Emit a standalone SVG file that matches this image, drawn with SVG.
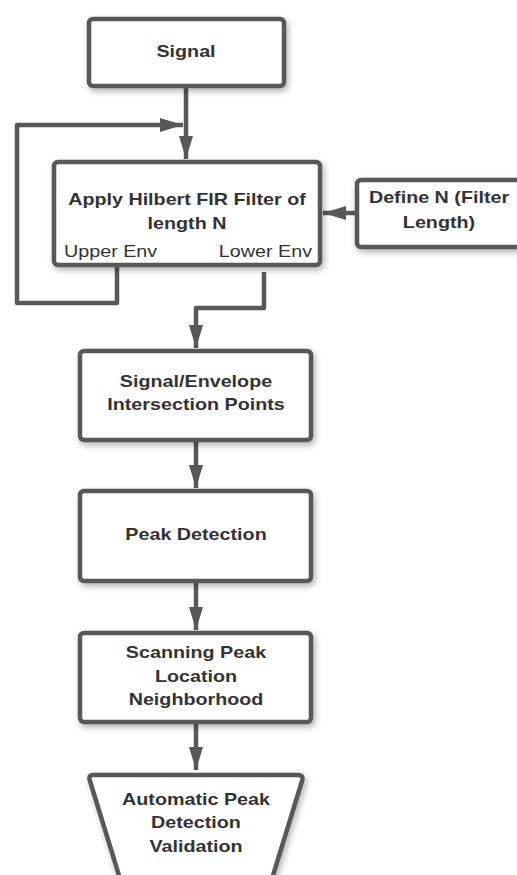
<svg xmlns="http://www.w3.org/2000/svg" width="517" height="875" viewBox="0 0 517 875">
<style>
.box{fill:#fff;stroke:#585858;stroke-width:4.5;filter:url(#sh)}
.con{fill:none;stroke:#585858;stroke-width:4.5;stroke-linejoin:round}
.t{font-family:"Liberation Sans",Arial,sans-serif;font-size:17px;font-weight:bold;fill:#333;text-anchor:middle}
.r{font-family:"Liberation Sans",Arial,sans-serif;font-size:17px;fill:#333}
</style>
<defs>
<filter id="sh" x="-20%" y="-20%" width="140%" height="150%">
<feDropShadow dx="2" dy="3" stdDeviation="3" flood-color="#000" flood-opacity="0.3"/>
</filter>
<marker id="ah" markerUnits="userSpaceOnUse" markerWidth="24" markerHeight="16" refX="23" refY="7" orient="auto">
<path d="M0,0 L23,7 L0,14 z" fill="#585858"/>
</marker>
</defs>
<rect width="517" height="875" fill="#fff"/>
<g id="connectors">
<path class="con" d="M186,88 V159" marker-end="url(#ah)"/>
<path class="con" d="M117,267 V303 H17 V125 H183" marker-end="url(#ah)"/>
<path class="con" d="M355,213 H323" marker-end="url(#ah)"/>
<path class="con" d="M264,272 V308 H196 V348" marker-end="url(#ah)"/>
<path class="con" d="M196,442 V488" marker-end="url(#ah)"/>
<path class="con" d="M196,583 V630" marker-end="url(#ah)"/>
<path class="con" d="M196,724 V770" marker-end="url(#ah)"/>
</g>
<g id="signal">
<rect class="box" x="89" y="19" width="195" height="67" rx="4"/>
<text class="t" transform="translate(186,57) scale(1.16,1)">Signal</text>
</g>
<g id="apply">
<rect class="box" x="54" y="162" width="266" height="103" rx="4"/>
<text class="t" transform="translate(187,205) scale(1.16,1)">Apply Hilbert FIR Filter of</text>
<text class="t" transform="translate(187,229) scale(1.16,1)">length N</text>
<text class="r" transform="translate(64,257) scale(1.16,1)">Upper Env</text>
<text class="r" style="text-anchor:end" transform="translate(312,257) scale(1.16,1)">Lower Env</text>
</g>
<g id="defineN">
<rect class="box" x="357" y="180" width="170" height="67" rx="4"/>
<text class="t" transform="translate(439,203) scale(1.16,1)">Define N (Filter</text>
<text class="t" transform="translate(439,228) scale(1.16,1)">Length)</text>
</g>
<g id="intersection">
<rect class="box" x="80" y="351" width="231" height="89" rx="4"/>
<text class="t" transform="translate(196,387) scale(1.16,1)">Signal/Envelope</text>
<text class="t" transform="translate(196,410) scale(1.16,1)">Intersection Points</text>
</g>
<g id="peak">
<rect class="box" x="80" y="491" width="231" height="90" rx="4"/>
<text class="t" transform="translate(196,540) scale(1.16,1)">Peak Detection</text>
</g>
<g id="scanning">
<rect class="box" x="80" y="633" width="231" height="89" rx="4"/>
<text class="t" transform="translate(196,658) scale(1.16,1)">Scanning Peak</text>
<text class="t" transform="translate(196,682) scale(1.16,1)">Location</text>
<text class="t" transform="translate(196,705) scale(1.16,1)">Neighborhood</text>
</g>
<g id="validation">
<path class="box" d="M93,775 H298 Q304,775 302,781 L267,895 H125 L90,781 Q88,775 93,775 Z"/>
<text class="t" transform="translate(196,805) scale(1.16,1)">Automatic Peak</text>
<text class="t" transform="translate(196,828) scale(1.16,1)">Detection</text>
<text class="t" transform="translate(196,852) scale(1.16,1)">Validation</text>
</g>
</svg>
